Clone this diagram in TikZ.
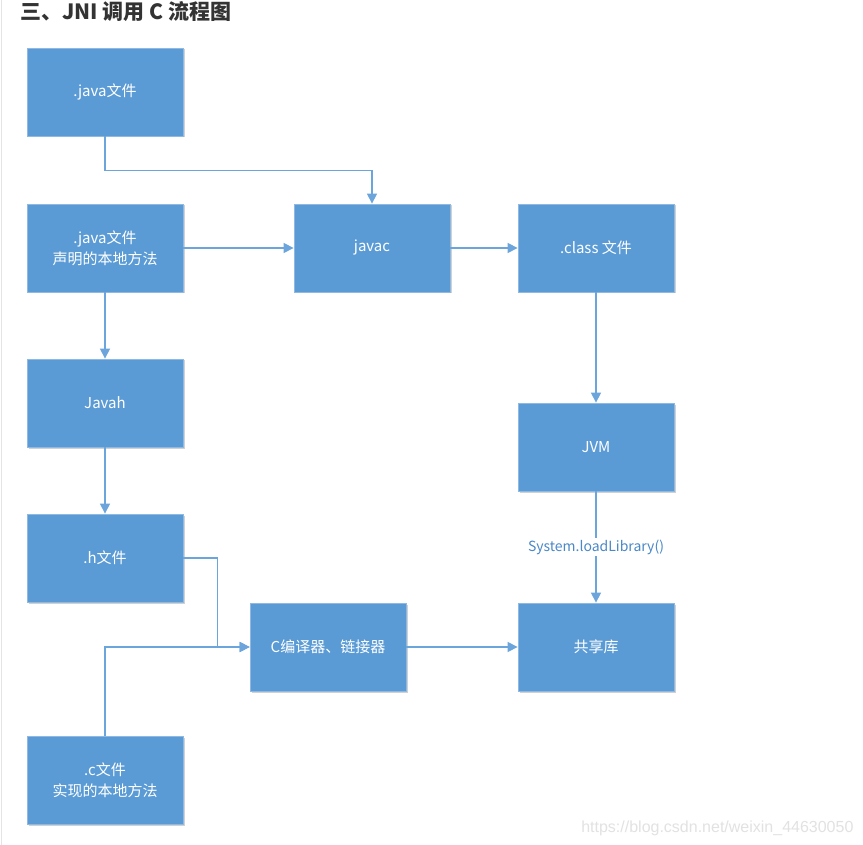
\documentclass[tikz,border=0pt]{standalone}
\usepackage{fontspec}
\setmainfont{Noto Sans CJK SC}
\newfontfamily\wmfont{Liberation Sans}
\usetikzlibrary{arrows.meta,shadows}
\definecolor{BoxBlue}{HTML}{5B9BD5}
\definecolor{BoxEdge}{HTML}{8DB9E2}
\definecolor{FlowBlue}{HTML}{6BA5DB}
\definecolor{LabelBlue}{HTML}{4A88C7}
\definecolor{TitleInk}{HTML}{333333}
\definecolor{PageRule}{HTML}{E4E4E4}
\definecolor{MarkGray}{HTML}{E2E2E2}

\tikzset{
  stagebox/.style={
    fill=BoxBlue,
    draw=BoxEdge,
    line width=0.8pt,
    minimum width=156pt,
    minimum height=88pt,
    align=center,
    text=white,
    font=\fontsize{15}{21}\selectfont,
    drop shadow={shadow xshift=1.5pt,shadow yshift=-1.5pt,fill=black,opacity=0.18}
  },
  flow/.style={
    draw=FlowBlue,
    line width=1.3pt,
    -{Triangle[length=10pt,width=10pt]}
  }
}

\begin{document}
\begin{tikzpicture}[x=1pt,y=-1pt]
    \useasboundingbox (0,0) rectangle (863,845);
    \fill[white] (0,0) rectangle (863,845);
    \draw[PageRule,line width=1.5pt] (1.5,0) -- (1.5,845);

    \node[anchor=west,text=TitleInk,font=\fontsize{21}{24}\selectfont\bfseries,inner sep=0pt] (title) at (20,12) {三、JNI 调用 C 流程图};

    % left column
    \node[stagebox] (javaA) at (105,92) {.java文件};
    \node[stagebox] (javaB) at (105,248) {.java文件\\声明的本地方法};
    \node[stagebox] (javah) at (105,403) {Javah};
    \node[stagebox] (hfile) at (105,558) {.h文件};
    \node[stagebox] (cfile) at (105,780) {.c文件\\实现的本地方法};

    % middle and right
    \node[stagebox] (javac) at (372,248) {javac};
    \node[stagebox] (classf) at (596,248) {.class 文件};
    \node[stagebox] (jvm) at (596,447) {JVM};
    \node[stagebox] (ccomp) at (328,647) {C编译器、链接器};
    \node[stagebox] (shlib) at (596,647) {共享库};

    \draw[flow] (javaA.south) -- ++(0,34) -| (javac.north);
    \draw[flow] (javaB) -- (javac);
    \draw[flow] (javac) -- (classf);
    \draw[flow] (classf) -- (jvm);
    \draw[flow] (javaB) -- (javah);
    \draw[flow] (javah) -- (hfile);
    \draw[flow] (jvm) -- node[fill=white,text=LabelBlue,inner sep=2pt,font=\fontsize{14}{16}\selectfont] (loadlib) {System.loadLibrary()} (shlib);
    \draw[flow] (hfile.east) -- ++(34,0) |- (ccomp.west);
    \draw[flow] (cfile.north) |- (ccomp.west);
    \draw[flow] (ccomp) -- (shlib);

    \node[anchor=east,text=MarkGray,font=\wmfont\fontsize{16}{18}\selectfont] (mark) at (857,828) {https://blog.csdn.net/weixin\_44630050};
\end{tikzpicture}
\end{document}
